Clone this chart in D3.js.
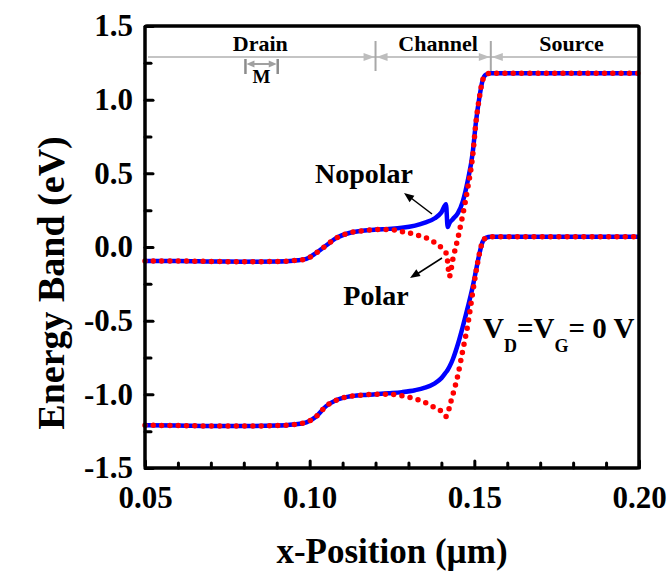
<!DOCTYPE html>
<html>
<head>
<meta charset="utf-8">
<script src="https://cdn.jsdelivr.net/npm/d3@7"></script>
<style>
  body { margin: 0; background: #fff; }
  text { font-family: "Liberation Serif", "Times New Roman", serif; font-weight: bold; }
</style>
</head>
<body>
<svg width="672" height="571"></svg>
<script>
// x positions (um) shared by all four curves
var xPos = [0.05, 0.06, 0.07, 0.08, 0.09, 0.095, 0.099, 0.102, 0.105, 0.108,
            0.112, 0.116, 0.12, 0.124, 0.128, 0.132, 0.135, 0.138, 0.140, 0.1414,
            0.1419, 0.1424, 0.1435, 0.145, 0.1465, 0.148, 0.1495, 0.1505, 0.1515, 0.1525,
            0.1535, 0.155, 0.16, 0.17, 0.18, 0.19, 0.20];

// conduction band (upper)
var cbNopolar = [-0.095, -0.095, -0.098, -0.10, -0.098, -0.093, -0.08, -0.04, 0.01, 0.06,
                 0.095, 0.11, 0.118, 0.123, 0.13, 0.145, 0.165, 0.195, 0.235, 0.29,
                 0.135, 0.16, 0.19, 0.23, 0.31, 0.45, 0.64, 0.85, 1.01, 1.13,
                 1.17, 1.18, 1.18, 1.18, 1.18, 1.18, 1.18];
var cbPolar = [-0.095, -0.095, -0.098, -0.10, -0.098, -0.093, -0.08, -0.04, 0.01, 0.06,
               0.095, 0.11, 0.118, 0.118, 0.105, 0.085, 0.065, 0.03, -0.005, -0.04,
               -0.10, -0.20, -0.08, 0.06, 0.22, 0.40, 0.62, 0.85, 1.01, 1.13,
               1.17, 1.18, 1.18, 1.18, 1.18, 1.18, 1.18];

// valence band (lower)
var vbNopolar = [-1.21, -1.212, -1.215, -1.215, -1.212, -1.205, -1.19, -1.15, -1.08, -1.04,
                 -1.015, -1.005, -1.0, -0.993, -0.985, -0.972, -0.955, -0.925, -0.89, -0.85,
                 -0.835, -0.815, -0.76, -0.66, -0.54, -0.41, -0.27, -0.16, -0.05, 0.035,
                 0.062, 0.07, 0.07, 0.07, 0.07, 0.07, 0.07];
var vbPolar = [-1.21, -1.212, -1.215, -1.215, -1.212, -1.205, -1.19, -1.15, -1.08, -1.04,
               -1.015, -1.005, -1.0, -1.0, -1.01, -1.03, -1.055, -1.09, -1.115, -1.15,
               -1.14, -1.09, -1.0, -0.87, -0.70, -0.53, -0.31, -0.17, -0.05, 0.035,
               0.062, 0.07, 0.07, 0.07, 0.07, 0.07, 0.07];

var xTicks = [0.05, 0.10, 0.15, 0.20];
var yTicks = [-1.5, -1.0, -0.5, 0.0, 0.5, 1.0, 1.5];

// device regions along the top
var regionBounds = [0.12, 0.155];
var regionNames = ["Drain", "Channel", "Source"];
var regionLabelX = [0.085, 0.139, 0.1795];
var markM = [0.0805, 0.0903];

var svg = d3.select("svg");
var plotL = 145, plotT = 26, plotR = 639, plotB = 468;

var xScale = d3.scaleLinear().domain([0.05, 0.20]).range([plotL, plotR]);
var yScale = d3.scaleLinear().domain([-1.5, 1.5]).range([plotB, plotT]);

function arrowHead(x, y, ang, len, hw, color) {
    // triangle with tip at (x,y), pointing in direction ang (radians)
    var c = Math.cos(ang), s = Math.sin(ang);
    var bx = x - c * len, by = y - s * len;
    var p = [[x, y], [bx - s * hw, by + c * hw], [bx + s * hw, by - c * hw]];
    svg.append("path")
        .attr("d", "M" + p.join("L") + "Z")
        .style("fill", color);
}

// top annotation: Drain | Channel | Source
var lineY = 57;
svg.append("line")
    .attr("x1", plotL + 3).attr("x2", plotR - 2)
    .attr("y1", lineY).attr("y2", lineY)
    .style("stroke", "#c4c4c4").style("stroke-width", 2);

regionBounds.forEach(function (b) {
    var bx = xScale(b);
    svg.append("line")
        .attr("x1", bx).attr("x2", bx).attr("y1", 41).attr("y2", 71)
        .style("stroke", "#a8a8a8").style("stroke-width", 2);
    arrowHead(bx - 1, lineY, 0, 11, 4, "#bdbdbd");
    arrowHead(bx + 1, lineY, Math.PI, 11, 4, "#bdbdbd");
});

regionNames.forEach(function (n, i) {
    svg.append("text")
        .attr("x", xScale(regionLabelX[i]))
        .attr("y", 51)
        .attr("text-anchor", "middle")
        .style("font-size", "22px")
        .text(n);
});

// M marker
var m1 = xScale(markM[0]), m2 = xScale(markM[1]);
[m1, m2].forEach(function (mx) {
    svg.append("line")
        .attr("x1", mx).attr("x2", mx).attr("y1", 59).attr("y2", 74)
        .style("stroke", "#8c8c8c").style("stroke-width", 2.5);
});
svg.append("line")
    .attr("x1", m1 + 6).attr("x2", m2 - 6).attr("y1", 64).attr("y2", 64)
    .style("stroke", "#a0a0a0").style("stroke-width", 2);
arrowHead(m1 + 1, 64, Math.PI, 8, 3.5, "#a0a0a0");
arrowHead(m2 - 1, 64, 0, 8, 3.5, "#a0a0a0");
svg.append("text")
    .attr("x", (m1 + m2) / 2).attr("y", 83)
    .attr("text-anchor", "middle")
    .style("font-size", "19px")
    .text("M");

// curves
var line = d3.line()
    .x(function (d) { return xScale(d[0]); })
    .y(function (d) { return yScale(d[1]); })
    .curve(d3.curveMonotoneX);

function pairs(vals) {
    return xPos.map(function (x, i) { return [x, vals[i]]; });
}

[[cbNopolar, cbPolar], [vbNopolar, vbPolar]].forEach(function (band) {
    svg.append("path")
        .datum(pairs(band[0]))
        .attr("d", line)
        .style("fill", "none")
        .style("stroke", "#0000ff")
        .style("stroke-width", 4.5);
    svg.append("path")
        .datum(pairs(band[1]))
        .attr("d", line)
        .style("fill", "none")
        .style("stroke", "#ff0000")
        .style("stroke-width", 5.5)
        .style("stroke-linecap", "round")
        .style("stroke-dasharray", "0 8.3");
});

// axes, ticks inside; hyphen instead of unicode minus
function fmt(p) {
    var f = d3.format(p);
    return function (d) { return f(d).replace("\u2212", "-"); };
}

var gx = svg.append("g").attr("transform", "translate(0," + plotB + ")");
gx.call(d3.axisBottom(xScale).tickValues(xTicks).tickSize(-7).tickPadding(18)
    .tickFormat(fmt(".2f")));
var minorX = d3.range(0.06, 0.2, 0.01).filter(function (v) { return Math.abs(v * 20 - Math.round(v * 20)) > 1e-6; });
gx.append("g").call(d3.axisBottom(xScale).tickValues(minorX).tickSize(-5).tickFormat(""));

var gy = svg.append("g").attr("transform", "translate(" + plotL + ",0)");
gy.call(d3.axisLeft(yScale).tickValues(yTicks).tickSize(-8).tickPadding(12)
    .tickFormat(fmt(".1f")));
gy.append("g").call(d3.axisLeft(yScale).tickValues([-1.25, -0.75, -0.25, 0.25, 0.75, 1.25])
    .tickSize(-6).tickFormat(""));

svg.selectAll(".domain").remove();
svg.selectAll(".tick line").style("stroke", "#000").style("stroke-width", 3).style("stroke-linecap", "round");
svg.selectAll(".tick text")
    .style("font-family", "Liberation Serif")
    .style("font-weight", "bold")
    .style("font-size", "31px")
    .style("fill", "#000");

// frame
svg.append("rect")
    .attr("x", plotL).attr("y", plotT)
    .attr("width", plotR - plotL).attr("height", plotB - plotT)
    .attr("rx", 2)
    .style("fill", "none").style("stroke", "#000").style("stroke-width", 3.5);

// axis titles
svg.append("text")
    .attr("x", 392).attr("y", 563)
    .attr("text-anchor", "middle")
    .style("font-size", "35px")
    .text("x-Position (\u00b5m)");

svg.append("text")
    .attr("transform", "translate(64,283)rotate(-90)")
    .attr("text-anchor", "middle")
    .style("font-size", "38px")
    .text("Energy Band (eV)");

// Nopolar / Polar labels with arrows
svg.append("text")
    .attr("x", 315).attr("y", 183)
    .style("font-size", "28px")
    .text("Nopolar");
svg.append("line")
    .attr("x1", 432).attr("y1", 214).attr("x2", 411).attr("y2", 198)
    .style("stroke", "#000").style("stroke-width", 1.5);
arrowHead(404, 193, Math.atan2(193 - 214, 404 - 432), 10, 4, "#000");

svg.append("text")
    .attr("x", 376).attr("y", 305)
    .attr("text-anchor", "middle")
    .style("font-size", "28px")
    .text("Polar");
svg.append("line")
    .attr("x1", 442).attr("y1", 258).attr("x2", 417).attr("y2", 274)
    .style("stroke", "#000").style("stroke-width", 1.5);
arrowHead(410, 278, Math.atan2(278 - 258, 410 - 442), 10, 4, "#000");

// bias condition
var vt = svg.append("text").attr("x", 483).attr("y", 338).style("font-size", "29px");
vt.append("tspan").text("V");
vt.append("tspan").attr("dy", 14).style("font-size", "18px").text("D");
vt.append("tspan").attr("dy", -14).text("=V");
vt.append("tspan").attr("dy", 14).style("font-size", "18px").text("G");
vt.append("tspan").attr("dy", -14).text("= 0 V");
</script>
</body>
</html>
